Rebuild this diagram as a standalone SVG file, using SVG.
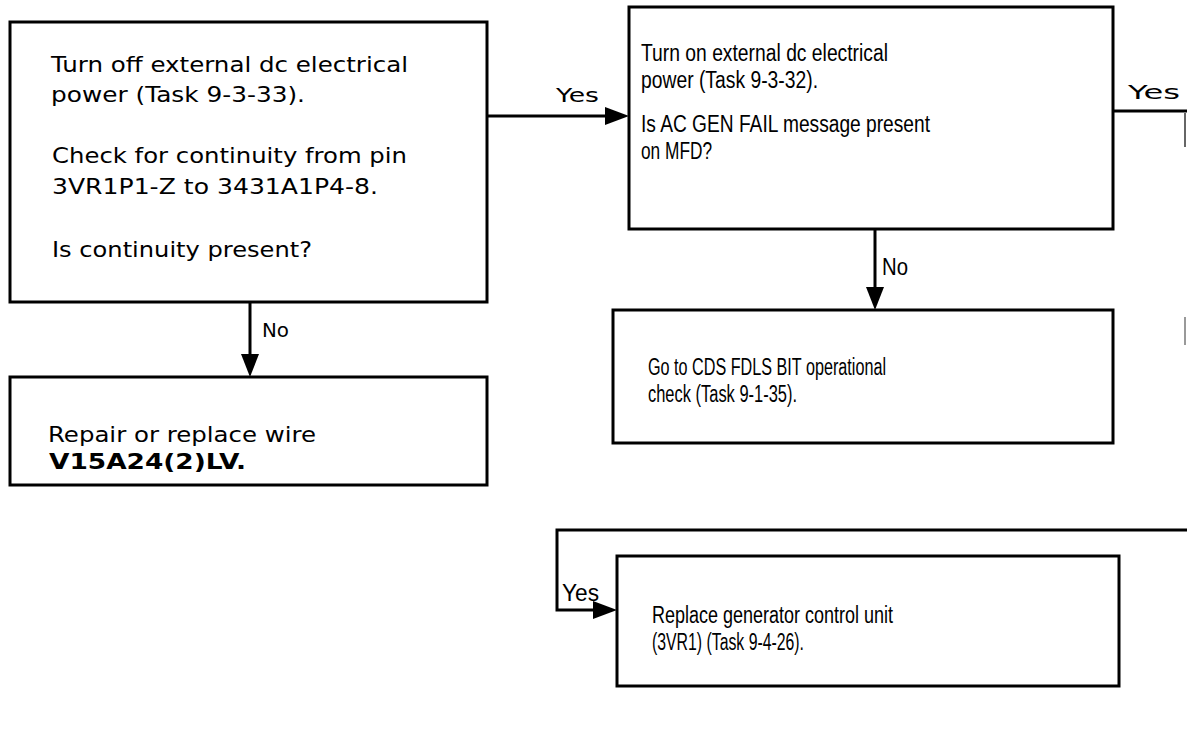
<svg xmlns="http://www.w3.org/2000/svg" width="1187" height="742" viewBox="0 0 1187 742">
<style>
.box{fill:#fff;stroke:#000;stroke-width:3}
.w{font-family:"DejaVu Sans","Liberation Sans",sans-serif;font-size:21px;fill:#000}
.n{font-family:"Liberation Sans",Arial,sans-serif;font-size:23px;fill:#000}
.lbl{font-family:"DejaVu Sans","Liberation Sans",sans-serif;font-size:20px;fill:#000}
.c{fill:none;stroke:#000;stroke-width:3}
.ah{fill:#000}
</style>
<rect width="1187" height="742" fill="#fff"/>
<g id="connectors">
<line class="c" x1="487" y1="116" x2="612" y2="116"/>
<polygon class="ah" points="629,116 605,107 605,125"/>
<text class="lbl" x="556" y="102" textLength="43" lengthAdjust="spacingAndGlyphs">Yes</text>
<line class="c" x1="250" y1="302" x2="250" y2="360"/>
<polygon class="ah" points="250,377 241,354 259,354"/>
<text class="lbl" x="262" y="337" textLength="27" lengthAdjust="spacingAndGlyphs">No</text>
<line class="c" x1="875" y1="229" x2="875" y2="293"/>
<polygon class="ah" points="875,310 866,287 884,287"/>
<text class="n" x="882" y="275" textLength="26" lengthAdjust="spacingAndGlyphs">No</text>
<polyline class="c" points="1113,111 1187,111"/>
<line x1="1185" y1="113" x2="1185" y2="147" stroke="#666" stroke-width="2"/>
<line x1="1185" y1="317" x2="1185" y2="345" stroke="#999" stroke-width="2"/>
<text class="lbl" x="1128" y="99" textLength="52" lengthAdjust="spacingAndGlyphs">Yes</text>
<polyline class="c" points="1187,530 557,530 557,610 600,610"/>
<polygon class="ah" points="617,610 593,601 593,619"/>
<text class="n" x="562" y="601" textLength="37" lengthAdjust="spacingAndGlyphs">Yes</text>
</g>
<g id="box1">
<rect class="box" x="10" y="22" width="477" height="280"/>
<text class="w" x="51" y="72" textLength="357" lengthAdjust="spacingAndGlyphs">Turn off external dc electrical</text>
<text class="w" x="51" y="102" textLength="254" lengthAdjust="spacingAndGlyphs">power (Task 9-3-33).</text>
<text class="w" x="52" y="163" textLength="355" lengthAdjust="spacingAndGlyphs">Check for continuity from pin</text>
<text class="w" x="52" y="194" textLength="326" lengthAdjust="spacingAndGlyphs">3VR1P1-Z to 3431A1P4-8.</text>
<text class="w" x="52" y="257" textLength="260" lengthAdjust="spacingAndGlyphs">Is continuity present?</text>
</g>
<g id="box2">
<rect class="box" x="629" y="7" width="484" height="222"/>
<text class="n" x="641" y="61" textLength="247" lengthAdjust="spacingAndGlyphs">Turn on external dc electrical</text>
<text class="n" x="641" y="88" textLength="177" lengthAdjust="spacingAndGlyphs">power (Task 9-3-32).</text>
<text class="n" x="641" y="132" textLength="289" lengthAdjust="spacingAndGlyphs">Is AC GEN FAIL message present</text>
<text class="n" x="641" y="159" textLength="71" lengthAdjust="spacingAndGlyphs">on MFD?</text>
</g>
<g id="box3">
<rect class="box" x="10" y="377" width="477" height="108"/>
<text class="w" x="48" y="442" textLength="268" lengthAdjust="spacingAndGlyphs">Repair or replace wire</text>
<text class="w" x="49" y="469" textLength="197" lengthAdjust="spacingAndGlyphs" font-weight="bold">V15A24(2)LV.</text>
</g>
<g id="box4">
<rect class="box" x="613" y="310" width="500" height="133"/>
<text class="n" x="648" y="375" textLength="238" lengthAdjust="spacingAndGlyphs">Go to CDS FDLS BIT operational</text>
<text class="n" x="648" y="402" textLength="149" lengthAdjust="spacingAndGlyphs">check (Task 9-1-35).</text>
</g>
<g id="box5">
<rect class="box" x="617" y="556" width="502" height="130"/>
<text class="n" x="652" y="623" textLength="241" lengthAdjust="spacingAndGlyphs">Replace generator control unit</text>
<text class="n" x="652" y="650" textLength="152" lengthAdjust="spacingAndGlyphs">(3VR1) (Task 9-4-26).</text>
</g>
</svg>
